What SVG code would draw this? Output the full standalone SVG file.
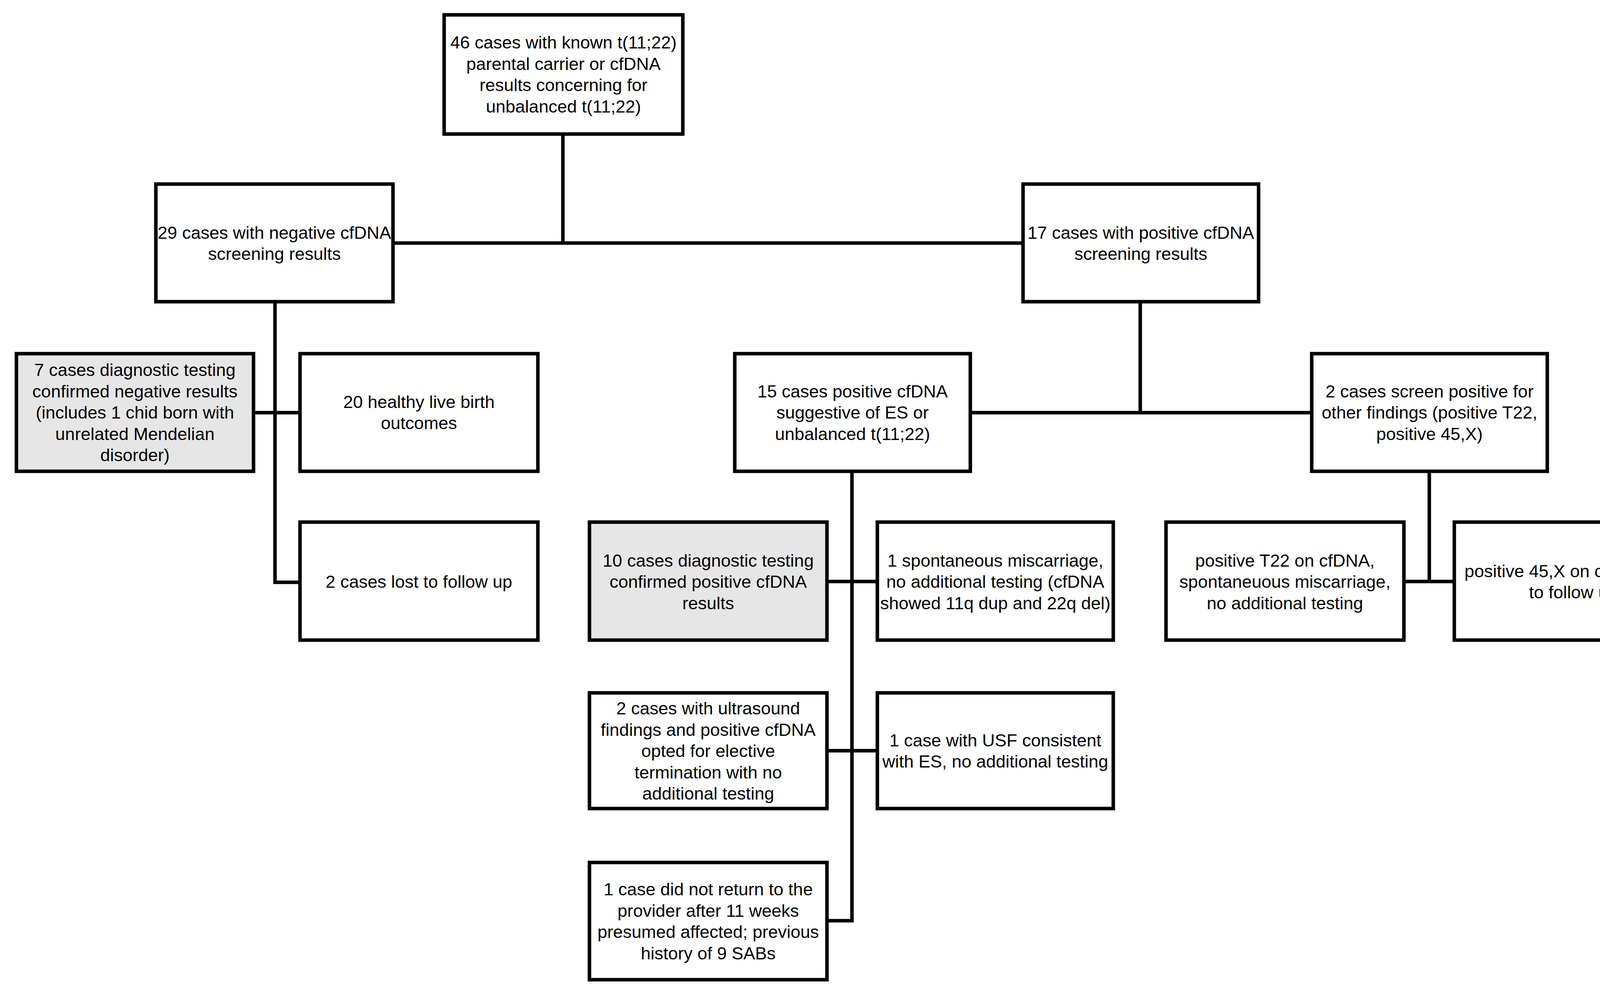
<svg xmlns="http://www.w3.org/2000/svg" width="4361" height="2541" viewBox="0 0 4361 2541">
<style>
.box{fill:#ffffff;stroke:#000000;stroke-width:9}
.grey{fill:#e6e6e6}
.conn{fill:none;stroke:#000000;stroke-width:9;stroke-linecap:square;stroke-linejoin:miter}
text{font-family:"Liberation Sans",Arial,sans-serif;font-size:45px;fill:#000000;text-anchor:middle}
</style>
<rect width="4361" height="2541" fill="#ffffff"/>
<g id="connectors">
<path class="conn" d="M1441,343 V622 M1006,622 H2619"/>
<path class="conn" d="M704,772 V1490 H768 M649,1056 H768"/>
<path class="conn" d="M2919,772 V1056 M2484,1056 H3358"/>
<path class="conn" d="M2181,1206 V2356 H2117 M2117,1488 H2246 M2117,1921 H2246"/>
<path class="conn" d="M3659,1206 V1488 M3594,1488 H3723"/>
</g>
<g id="n-root">
<rect class="box" x="1137" y="38" width="611" height="305"/>
<text x="1442.5" y="124">46 cases with known t(11;22)</text>
<text x="1442.5" y="179">parental carrier or cfDNA</text>
<text x="1442.5" y="233">results concerning for</text>
<text x="1442.5" y="288">unbalanced t(11;22)</text>
</g>
<g id="n-negative">
<rect class="box" x="399" y="471" width="607" height="301"/>
<text x="702.5" y="611">29 cases with negative cfDNA</text>
<text x="702.5" y="665">screening results</text>
</g>
<g id="n-positive">
<rect class="box" x="2619" y="471" width="603" height="301"/>
<text x="2920.5" y="611">17 cases with positive cfDNA</text>
<text x="2920.5" y="665">screening results</text>
</g>
<g id="n-neg-confirmed">
<rect class="box grey" x="42" y="905" width="607" height="301"/>
<text x="345.5" y="962">7 cases diagnostic testing</text>
<text x="345.5" y="1017">confirmed negative results</text>
<text x="345.5" y="1071">(includes 1 chid born with</text>
<text x="345.5" y="1126">unrelated Mendelian</text>
<text x="345.5" y="1180">disorder)</text>
</g>
<g id="n-healthy">
<rect class="box" x="768" y="905" width="609" height="301"/>
<text x="1072.5" y="1044">20 healthy live birth</text>
<text x="1072.5" y="1098">outcomes</text>
</g>
<g id="n-lost">
<rect class="box" x="768" y="1336" width="609" height="302"/>
<text x="1072.5" y="1504">2 cases lost to follow up</text>
</g>
<g id="n-suggestive">
<rect class="box" x="1881" y="905" width="603" height="301"/>
<text x="2182.5" y="1017">15 cases positive cfDNA</text>
<text x="2182.5" y="1071">suggestive of ES or</text>
<text x="2182.5" y="1126">unbalanced t(11;22)</text>
</g>
<g id="n-other">
<rect class="box" x="3358" y="905" width="603" height="301"/>
<text x="3659.5" y="1017">2 cases screen positive for</text>
<text x="3659.5" y="1071">other findings (positive T22,</text>
<text x="3659.5" y="1126">positive 45,X)</text>
</g>
<g id="n-pos-confirmed">
<rect class="box grey" x="1509" y="1336" width="608" height="302"/>
<text x="1813" y="1450">10 cases diagnostic testing</text>
<text x="1813" y="1504">confirmed positive cfDNA</text>
<text x="1813" y="1559">results</text>
</g>
<g id="n-miscarriage">
<rect class="box" x="2246" y="1336" width="604" height="302"/>
<text x="2548" y="1450">1 spontaneous miscarriage,</text>
<text x="2548" y="1504">no additional testing (cfDNA</text>
<text x="2548" y="1559">showed 11q dup and 22q del)</text>
</g>
<g id="n-t22">
<rect class="box" x="2985" y="1336" width="609" height="302"/>
<text x="3289.5" y="1450">positive T22 on cfDNA,</text>
<text x="3289.5" y="1504">spontaneuous miscarriage,</text>
<text x="3289.5" y="1559">no additional testing</text>
</g>
<g id="n-45x">
<rect class="box" x="3723" y="1336" width="610" height="302"/>
<text x="4028" y="1477">positive 45,X on cfDNA, lost</text>
<text x="4028" y="1531">to follow up</text>
</g>
<g id="n-ultrasound">
<rect class="box" x="1509" y="1773" width="608" height="296"/>
<text x="1813" y="1828">2 cases with ultrasound</text>
<text x="1813" y="1883">findings and positive cfDNA</text>
<text x="1813" y="1937">opted for elective</text>
<text x="1813" y="1992">termination with no</text>
<text x="1813" y="2046">additional testing</text>
</g>
<g id="n-usf">
<rect class="box" x="2246" y="1773" width="604" height="296"/>
<text x="2548" y="1910">1 case with USF consistent</text>
<text x="2548" y="1964">with ES, no additional testing</text>
</g>
<g id="n-noreturn">
<rect class="box" x="1509" y="2207" width="608" height="300"/>
<text x="1813" y="2291">1 case did not return to the</text>
<text x="1813" y="2346">provider after 11 weeks</text>
<text x="1813" y="2400">presumed affected; previous</text>
<text x="1813" y="2455">history of 9 SABs</text>
</g>
</svg>
